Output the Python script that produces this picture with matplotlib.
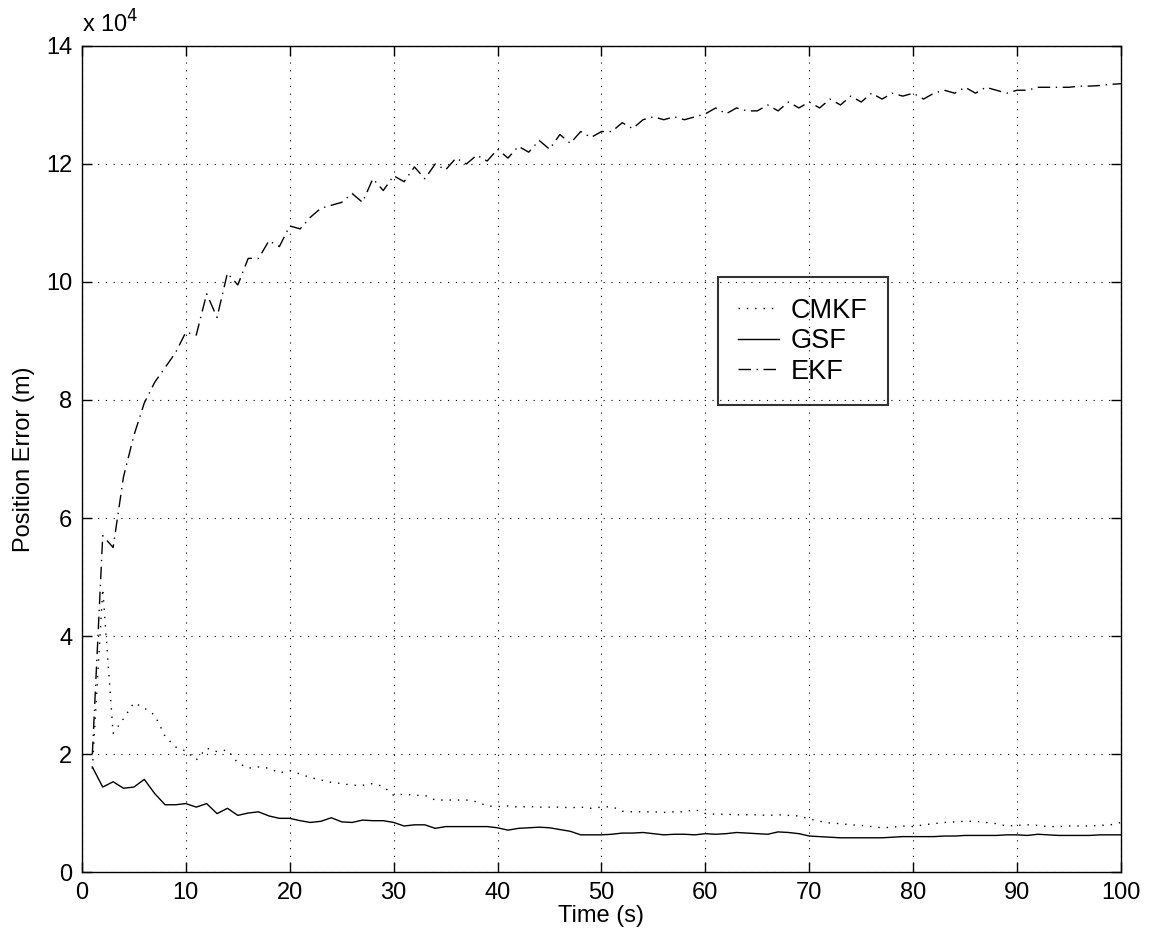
import matplotlib
matplotlib.use('Agg')
import matplotlib.pyplot as plt
import numpy as np
from matplotlib.ticker import FuncFormatter

plt.rcParams['font.family'] = ['Liberation Sans', 'DejaVu Sans']

# time steps
t = list(range(1, 101))

# position error, units of 1e4 m
cmkf = [1.75, 4.8, 2.35, 2.6, 2.87, 2.78, 2.66, 2.3, 2.12, 2.05,
        1.9, 2.1, 2.04, 2.07, 1.85, 1.76, 1.78, 1.76, 1.68, 1.72,
        1.66, 1.6, 1.56, 1.52, 1.5, 1.47, 1.47, 1.5, 1.45, 1.3,
        1.32, 1.3, 1.3, 1.22, 1.22, 1.22, 1.22, 1.19, 1.12, 1.11,
        1.12, 1.1, 1.11, 1.1, 1.1, 1.1, 1.09, 1.1, 1.08, 1.1,
        1.11, 1.03, 1.02, 1.02, 1.02, 1.01, 1.02, 1.02, 1.06, 0.99,
        0.98, 0.98, 0.97, 0.97, 0.97, 0.96, 0.97, 0.96, 0.95, 0.9,
        0.86, 0.83, 0.82, 0.8, 0.79, 0.77, 0.75, 0.76, 0.78, 0.77,
        0.8, 0.82, 0.84, 0.85, 0.86, 0.86, 0.84, 0.82, 0.78, 0.79,
        0.8, 0.79, 0.77, 0.77, 0.78, 0.78, 0.78, 0.79, 0.8, 0.84]
gsf = [1.78, 1.44, 1.53, 1.42, 1.44, 1.57, 1.33, 1.14, 1.14, 1.16,
       1.10, 1.16, 0.99, 1.08, 0.96, 1.0, 1.02, 0.95, 0.91, 0.91,
       0.87, 0.84, 0.86, 0.92, 0.85, 0.84, 0.88, 0.87, 0.87, 0.84,
       0.78, 0.8, 0.8, 0.74, 0.77, 0.77, 0.77, 0.77, 0.77, 0.75,
       0.71, 0.74, 0.75, 0.76, 0.75, 0.72, 0.69, 0.63, 0.63, 0.63,
       0.64, 0.66, 0.66, 0.67, 0.65, 0.63, 0.64, 0.64, 0.63, 0.65,
       0.64, 0.65, 0.67, 0.66, 0.65, 0.64, 0.68, 0.67, 0.65, 0.61,
       0.6, 0.59, 0.58, 0.58, 0.58, 0.58, 0.58, 0.59, 0.6, 0.6,
       0.6, 0.6, 0.61, 0.61, 0.62, 0.62, 0.62, 0.62, 0.63, 0.63,
       0.62, 0.64, 0.63, 0.62, 0.62, 0.62, 0.62, 0.63, 0.63, 0.63]
ekf = [2.0, 5.7, 5.5, 6.7, 7.4, 7.95, 8.3, 8.55, 8.8, 9.15,
       9.1, 9.8, 9.4, 10.15, 9.95, 10.4, 10.4, 10.7, 10.6, 10.95,
       10.9, 11.1, 11.25, 11.3, 11.35, 11.5, 11.35, 11.75, 11.55, 11.8,
       11.7, 11.95, 11.75, 12.0, 11.9, 12.1, 12.0, 12.15, 12.05, 12.25,
       12.1, 12.3, 12.2, 12.4, 12.25, 12.5, 12.35, 12.55, 12.45, 12.55,
       12.55, 12.7, 12.6, 12.75, 12.8, 12.75, 12.8, 12.75, 12.8, 12.85,
       12.95, 12.85, 12.95, 12.9, 12.9, 13.0, 12.9, 13.05, 12.95, 13.05,
       12.95, 13.1, 13.0, 13.15, 13.05, 13.2, 13.1, 13.2, 13.15, 13.2,
       13.1, 13.2, 13.25, 13.2, 13.3, 13.2, 13.3, 13.25, 13.2, 13.25,
       13.25, 13.3, 13.3, 13.3, 13.3, 13.32, 13.32, 13.33, 13.35, 13.36]

scale = 1e4
fs = 17
fig = plt.figure(figsize=(11.56, 9.46), dpi=100)
ax = fig.add_axes([0.0709, 0.0782, 0.8988, 0.8732])

ax.plot(t, np.array(cmkf) * scale, color='black', lw=1.0, linestyle=(0, (1, 5)), label='CMKF')
ax.plot(t, np.array(gsf) * scale, color='black', lw=1.0, linestyle='-', label='GSF')
ax.plot(t, np.array(ekf) * scale, color='black', lw=1.0, linestyle=(0, (9, 4, 1, 4)), label='EKF')

ax.set_xlim(0, 100)
ax.set_ylim(0, 14e4)
ax.set_xticks(np.arange(0, 101, 10))
ax.set_yticks(np.arange(0, 14.1e4, 2e4))
ax.yaxis.set_major_formatter(FuncFormatter(lambda v, p: '%g' % (v / scale)))
ax.tick_params(direction='in', length=7, width=1, labelsize=fs, top=True, right=True, pad=7)
ax.grid(True, color='black', linestyle=(0, (1, 6)), lw=0.8)
for s in ax.spines.values():
    s.set_linewidth(1.0)

ax.set_xlabel('Time (s)', fontsize=fs, labelpad=1)
ax.set_ylabel('Position Error (m)', fontsize=fs, labelpad=8)
ax.text(0.0, 1.01, r'x 10$^{4}$', transform=ax.transAxes, fontsize=fs, va='bottom', ha='left')

leg = ax.legend(loc='upper left', bbox_to_anchor=(0.612, 0.72), fontsize=19.5, frameon=True,
                fancybox=False, edgecolor='black', handlelength=1.5,
                borderpad=0.75, labelspacing=0.17, handletextpad=0.45, borderaxespad=0)
leg.get_frame().set_facecolor('none')
leg.get_frame().set_linewidth(1.5)

fig.savefig('out.png', dpi=100)
